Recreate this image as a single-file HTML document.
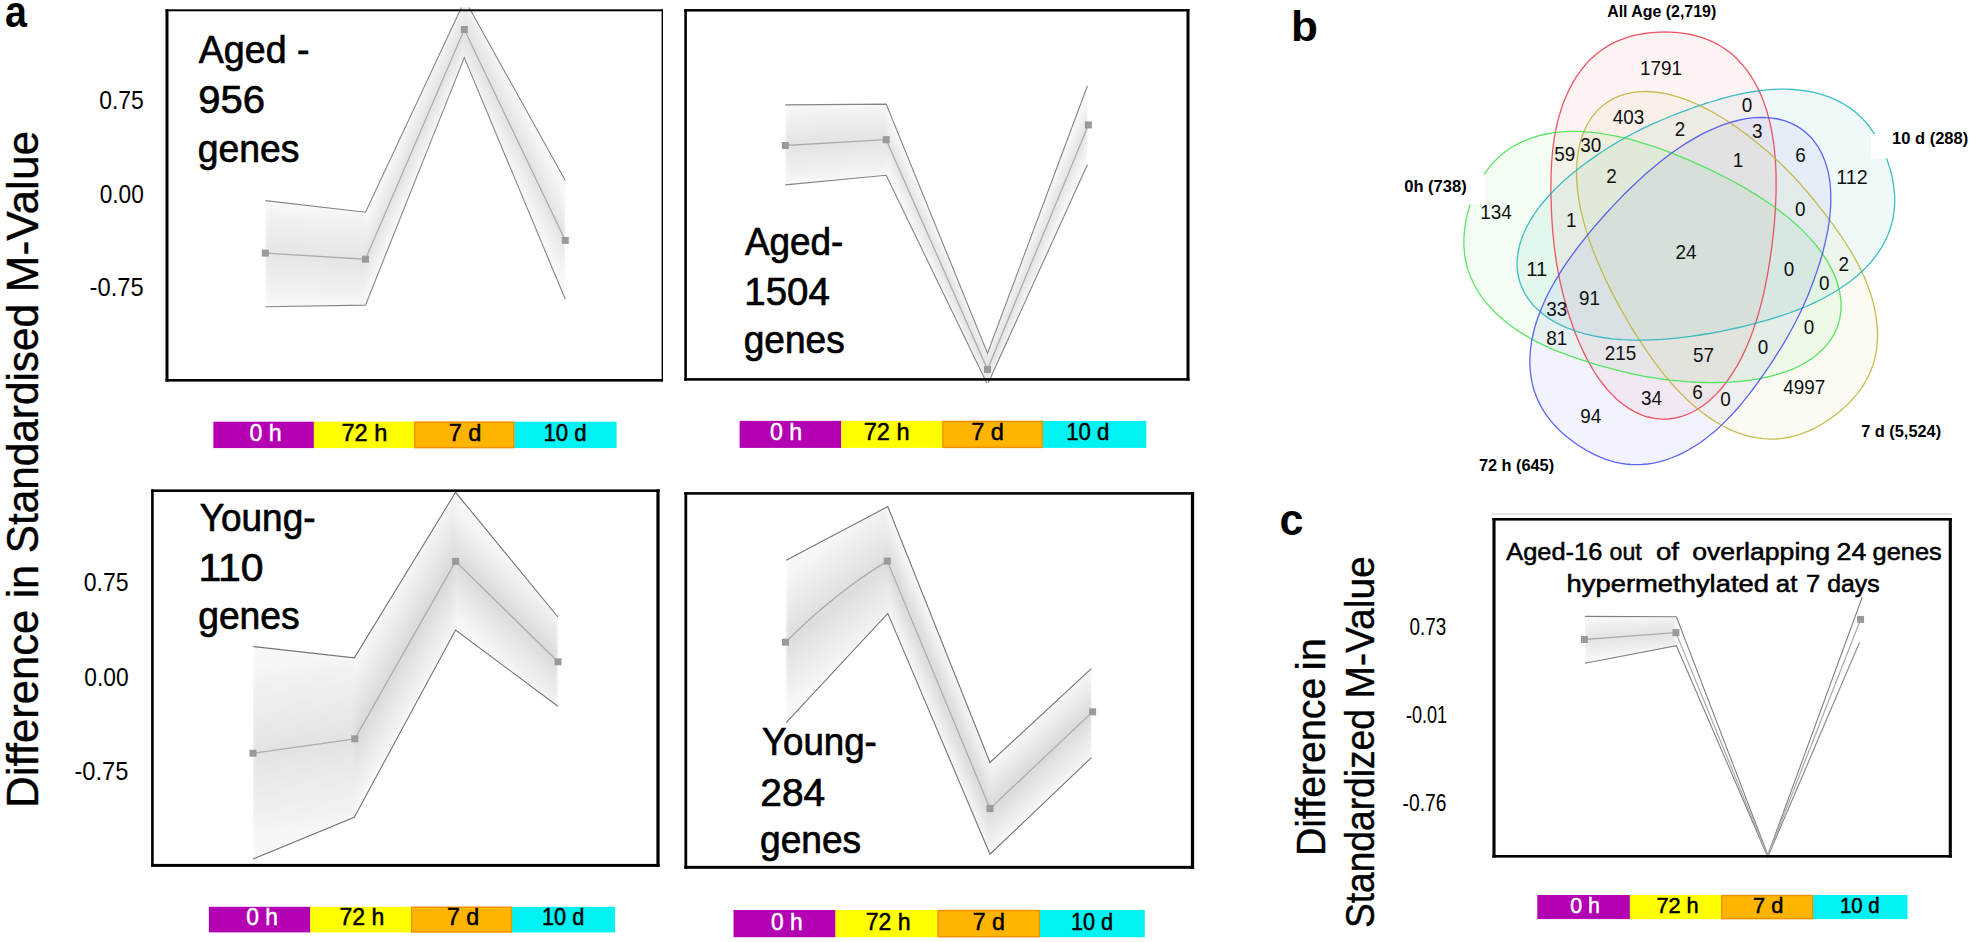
<!DOCTYPE html>
<html lang="en"><head><meta charset="utf-8"><title>Figure</title>
<style>html,body{margin:0;padding:0;background:#fff}svg{display:block}text{font-family:"Liberation Sans",sans-serif}</style>
</head><body>
<svg width="1971" height="942" viewBox="0 0 1971 942" font-family="'Liberation Sans', sans-serif">
<defs><filter id="blur" x="-10%" y="-10%" width="120%" height="120%"><feGaussianBlur stdDeviation="2.2"/></filter><clipPath id="c1"><rect x="160" y="7.5" width="510" height="377.5"/></clipPath><clipPath id="p2"><polygon points="265.3,200.6 365.5,212.2 464.9,0.0 565.3,180.5 565.3,299.3 464.3,57.6 365.5,305.1 265.3,306.7"/></clipPath><linearGradient id="g3" gradientUnits="userSpaceOnUse" x1="315.4" y1="256.1" x2="318.4" y2="206.6"><stop offset="0" stop-color="#e5e5e5"/><stop offset="1" stop-color="#f7f7f7"/></linearGradient><linearGradient id="g4" gradientUnits="userSpaceOnUse" x1="414.9" y1="144.3" x2="401.3" y2="138.5"><stop offset="0" stop-color="#e2e2e2"/><stop offset="1" stop-color="#f7f7f7"/></linearGradient><linearGradient id="g5" gradientUnits="userSpaceOnUse" x1="514.8" y1="134.9" x2="532.5" y2="126.5"><stop offset="0" stop-color="#e2e2e2"/><stop offset="1" stop-color="#f7f7f7"/></linearGradient><linearGradient id="g6" gradientUnits="userSpaceOnUse" x1="315.4" y1="256.1" x2="312.4" y2="305.7"><stop offset="0" stop-color="#e5e5e5"/><stop offset="1" stop-color="#f7f7f7"/></linearGradient><linearGradient id="g7" gradientUnits="userSpaceOnUse" x1="414.9" y1="144.3" x2="428.3" y2="150.1"><stop offset="0" stop-color="#e2e2e2"/><stop offset="1" stop-color="#f7f7f7"/></linearGradient><linearGradient id="g8" gradientUnits="userSpaceOnUse" x1="514.8" y1="134.9" x2="497.9" y2="143.1"><stop offset="0" stop-color="#e2e2e2"/><stop offset="1" stop-color="#f7f7f7"/></linearGradient><clipPath id="c9"><rect x="680" y="5" width="520" height="378"/></clipPath><clipPath id="p10"><polygon points="785.3,104.9 886.2,104.1 987.5,353.2 1087.5,85.8 1087.5,164.4 987.5,384.5 886.2,175.3 785.3,184.9"/></clipPath><linearGradient id="g11" gradientUnits="userSpaceOnUse" x1="835.8" y1="142.6" x2="833.6" y2="104.6"><stop offset="0" stop-color="#e3e3e3"/><stop offset="1" stop-color="#f7f7f7"/></linearGradient><linearGradient id="g12" gradientUnits="userSpaceOnUse" x1="936.9" y1="254.6" x2="946.4" y2="250.4"><stop offset="0" stop-color="#e2e2e2"/><stop offset="1" stop-color="#f7f7f7"/></linearGradient><linearGradient id="g13" gradientUnits="userSpaceOnUse" x1="1038.0" y1="247.2" x2="1027.8" y2="243.0"><stop offset="0" stop-color="#e2e2e2"/><stop offset="1" stop-color="#f7f7f7"/></linearGradient><linearGradient id="g14" gradientUnits="userSpaceOnUse" x1="835.8" y1="142.6" x2="837.9" y2="180.0"><stop offset="0" stop-color="#e3e3e3"/><stop offset="1" stop-color="#f7f7f7"/></linearGradient><linearGradient id="g15" gradientUnits="userSpaceOnUse" x1="936.9" y1="254.6" x2="927.5" y2="258.7"><stop offset="0" stop-color="#e2e2e2"/><stop offset="1" stop-color="#f7f7f7"/></linearGradient><linearGradient id="g16" gradientUnits="userSpaceOnUse" x1="1038.0" y1="247.2" x2="1047.2" y2="251.0"><stop offset="0" stop-color="#e2e2e2"/><stop offset="1" stop-color="#f7f7f7"/></linearGradient><clipPath id="c17"><rect x="150" y="488" width="520" height="382"/></clipPath><clipPath id="p18"><polygon points="253.0,646.5 354.3,657.8 455.6,492.3 557.9,617.0 557.9,706.3 455.6,630.1 354.3,817.3 253.0,859.0"/></clipPath><linearGradient id="g19" gradientUnits="userSpaceOnUse" x1="303.9" y1="746.0" x2="290.9" y2="654.0"><stop offset="0" stop-color="#e3e3e3"/><stop offset="1" stop-color="#f7f7f7"/></linearGradient><linearGradient id="g20" gradientUnits="userSpaceOnUse" x1="405.2" y1="650.1" x2="372.8" y2="631.7"><stop offset="0" stop-color="#dadada"/><stop offset="1" stop-color="#f7f7f7"/></linearGradient><linearGradient id="g21" gradientUnits="userSpaceOnUse" x1="506.8" y1="611.6" x2="535.2" y2="582.6"><stop offset="0" stop-color="#dbdbdb"/><stop offset="1" stop-color="#f7f7f7"/></linearGradient><linearGradient id="g22" gradientUnits="userSpaceOnUse" x1="303.9" y1="746.0" x2="316.7" y2="836.3"><stop offset="0" stop-color="#e3e3e3"/><stop offset="1" stop-color="#f7f7f7"/></linearGradient><linearGradient id="g23" gradientUnits="userSpaceOnUse" x1="405.2" y1="650.1" x2="436.6" y2="668.0"><stop offset="0" stop-color="#dadada"/><stop offset="1" stop-color="#f7f7f7"/></linearGradient><linearGradient id="g24" gradientUnits="userSpaceOnUse" x1="506.8" y1="611.6" x2="478.5" y2="640.5"><stop offset="0" stop-color="#dbdbdb"/><stop offset="1" stop-color="#f7f7f7"/></linearGradient><clipPath id="c25"><rect x="680" y="490" width="520" height="380"/></clipPath><clipPath id="p26"><polygon points="786.2,560.3 887.8,506.6 990.0,762.5 1091.3,668.7 1091.3,757.7 990.0,854.2 887.8,613.4 786.2,722.7"/></clipPath><linearGradient id="g27" gradientUnits="userSpaceOnUse" x1="836.4" y1="601.7" x2="803.4" y2="560.2"><stop offset="0" stop-color="#dedede"/><stop offset="1" stop-color="#f7f7f7"/></linearGradient><linearGradient id="g28" gradientUnits="userSpaceOnUse" x1="938.6" y1="684.9" x2="956.7" y2="677.4"><stop offset="0" stop-color="#d9d9d9"/><stop offset="1" stop-color="#f7f7f7"/></linearGradient><linearGradient id="g29" gradientUnits="userSpaceOnUse" x1="1041.3" y1="760.2" x2="1018.7" y2="736.3"><stop offset="0" stop-color="#dadada"/><stop offset="1" stop-color="#f7f7f7"/></linearGradient><linearGradient id="g30" gradientUnits="userSpaceOnUse" x1="836.4" y1="601.7" x2="869.0" y2="642.6"><stop offset="0" stop-color="#dddddd"/><stop offset="1" stop-color="#f7f7f7"/></linearGradient><linearGradient id="g31" gradientUnits="userSpaceOnUse" x1="938.6" y1="684.9" x2="921.5" y2="692.0"><stop offset="0" stop-color="#d9d9d9"/><stop offset="1" stop-color="#f7f7f7"/></linearGradient><linearGradient id="g32" gradientUnits="userSpaceOnUse" x1="1041.3" y1="760.2" x2="1063.8" y2="784.1"><stop offset="0" stop-color="#dadada"/><stop offset="1" stop-color="#f7f7f7"/></linearGradient><clipPath id="c33"><rect x="1490" y="516" width="465" height="343"/></clipPath><clipPath id="p34"><polygon points="1585.1,616.4 1676.4,616.8 1767.8,855.0 1862.2,597.2 1859.5,642.4 1767.8,857.0 1676.4,645.7 1585.1,663.2"/></clipPath><linearGradient id="g35" gradientUnits="userSpaceOnUse" x1="1630.2" y1="636.0" x2="1628.7" y2="616.8"><stop offset="0" stop-color="#e2e2e2"/><stop offset="1" stop-color="#f7f7f7"/></linearGradient><linearGradient id="g36" gradientUnits="userSpaceOnUse" x1="1630.2" y1="636.0" x2="1631.5" y2="654.4"><stop offset="0" stop-color="#e2e2e2"/><stop offset="1" stop-color="#f7f7f7"/></linearGradient></defs>
<rect width="1971" height="942" fill="#fff"/>
<text x="5.1" y="26.7" font-size="43.5" font-weight="bold" textLength="21.9" lengthAdjust="spacingAndGlyphs" fill="#000">a</text>
<text x="1291.0" y="41.4" font-size="42.5" font-weight="bold" textLength="26.9" lengthAdjust="spacingAndGlyphs" fill="#000">b</text>
<text x="1279.5" y="534.8" font-size="43.5" font-weight="bold" textLength="24.0" lengthAdjust="spacingAndGlyphs" fill="#000">c</text>
<g transform="translate(37.8,807.7) rotate(-90)"><text x="0.0" y="0.0" font-size="43.5" textLength="197.9" lengthAdjust="spacingAndGlyphs" fill="#000" stroke="#000" stroke-width="0.4">Difference</text></g>
<g transform="translate(37.8,598.6) rotate(-90)"><text x="0.0" y="0.0" font-size="43.5" textLength="33.9" lengthAdjust="spacingAndGlyphs" fill="#000" stroke="#000" stroke-width="0.4">in</text></g>
<g transform="translate(37.8,553.3) rotate(-90)"><text x="0.0" y="0.0" font-size="43.5" textLength="249.4" lengthAdjust="spacingAndGlyphs" fill="#000" stroke="#000" stroke-width="0.4">Standardised</text></g>
<g transform="translate(37.8,292.4) rotate(-90)"><text x="0.0" y="0.0" font-size="43.5" textLength="161.5" lengthAdjust="spacingAndGlyphs" fill="#000" stroke="#000" stroke-width="0.4">M-Value</text></g>
<text x="99.2" y="109.0" font-size="25.5" textLength="44.6" lengthAdjust="spacingAndGlyphs" fill="#000">0.75</text>
<text x="99.7" y="202.6" font-size="25.5" textLength="44.1" lengthAdjust="spacingAndGlyphs" fill="#000">0.00</text>
<text x="89.6" y="296.0" font-size="25.5" textLength="54.0" lengthAdjust="spacingAndGlyphs" fill="#000">-0.75</text>
<text x="83.7" y="591.4" font-size="25.5" textLength="44.9" lengthAdjust="spacingAndGlyphs" fill="#000">0.75</text>
<text x="84.3" y="685.9" font-size="25.5" textLength="44.3" lengthAdjust="spacingAndGlyphs" fill="#000">0.00</text>
<text x="74.4" y="780.0" font-size="25.5" textLength="54.0" lengthAdjust="spacingAndGlyphs" fill="#000">-0.75</text>
<g clip-path="url(#c1)"><g clip-path="url(#p2)"><g filter="url(#blur)"><polygon points="265.3,200.6 365.5,212.2 365.5,259.2 265.3,253.1" fill="url(#g3)" stroke="url(#g3)" stroke-width="0.6"/><polygon points="365.5,212.2 464.9,0.0 464.3,29.5 365.5,259.2" fill="url(#g4)" stroke="url(#g4)" stroke-width="0.6"/><polygon points="464.9,0.0 565.3,180.5 565.3,240.4 464.3,29.5" fill="url(#g5)" stroke="url(#g5)" stroke-width="0.6"/><polygon points="265.3,306.7 365.5,305.1 365.5,259.2 265.3,253.1" fill="url(#g6)" stroke="url(#g6)" stroke-width="0.6"/><polygon points="365.5,305.1 464.3,57.6 464.3,29.5 365.5,259.2" fill="url(#g7)" stroke="url(#g7)" stroke-width="0.6"/><polygon points="464.3,57.6 565.3,299.3 565.3,240.4 464.3,29.5" fill="url(#g8)" stroke="url(#g8)" stroke-width="0.6"/></g></g><polyline points="265.3,200.6 365.5,212.2 464.9,0.0 565.3,180.5" fill="none" stroke="#858585" stroke-width="1.1" stroke-linejoin="miter"/><polyline points="265.3,306.7 365.5,305.1 464.3,57.6 565.3,299.3" fill="none" stroke="#858585" stroke-width="1.1" stroke-linejoin="miter"/><polyline points="265.3,253.1 365.5,259.2 464.3,29.5 565.3,240.4" fill="none" stroke="#adadad" stroke-width="1.3"/></g><rect x="261.8" y="249.6" width="7" height="7" fill="#9a9a9a"/><rect x="362.0" y="255.7" width="7" height="7" fill="#9a9a9a"/><rect x="460.8" y="26.0" width="7" height="7" fill="#9a9a9a"/><rect x="561.8" y="236.9" width="7" height="7" fill="#9a9a9a"/>
<rect x="165.50" y="9.30" width="3" height="372.30" fill="#000"/><rect x="661.60" y="9.30" width="1.4" height="372.30" fill="#000"/><rect x="165.50" y="9.30" width="497.50" height="2" fill="#000"/><rect x="165.50" y="379.00" width="497.50" height="2.6" fill="#000"/>
<text x="198.8" y="63.3" font-size="38.5" textLength="110.7" lengthAdjust="spacingAndGlyphs" fill="#000" stroke="#000" stroke-width="0.7">Aged -</text>
<text x="198.3" y="112.9" font-size="38.5" textLength="66.7" lengthAdjust="spacingAndGlyphs" fill="#000" stroke="#000" stroke-width="0.7">956</text>
<text x="197.7" y="162.0" font-size="38.5" textLength="101.7" lengthAdjust="spacingAndGlyphs" fill="#000" stroke="#000" stroke-width="0.7">genes</text>
<rect x="213.4" y="421.7" width="100.7" height="26.4" fill="#b200b2"/><rect x="313.8" y="421.7" width="100.8" height="26.4" fill="#ffff00"/><rect x="414.3" y="421.7" width="100.3" height="26.4" fill="#ffb400"/><rect x="514.3" y="421.7" width="102.3" height="26.4" fill="#00f2f2"/><rect x="414.8" y="422.2" width="99.0" height="25.4" fill="none" stroke="#f09200" stroke-width="1.4"/><text x="249.5" y="440.7" font-size="24.5" textLength="32.2" lengthAdjust="spacingAndGlyphs" fill="#fff" stroke="#fff" stroke-width="0.5">0 h</text><text x="341.5" y="440.7" font-size="24.5" textLength="45.9" lengthAdjust="spacingAndGlyphs" fill="#000" stroke="#000" stroke-width="0.5">72 h</text><text x="448.7" y="440.7" font-size="24.5" textLength="32.8" lengthAdjust="spacingAndGlyphs" fill="#000" stroke="#000" stroke-width="0.5">7 d</text><text x="543.4" y="440.7" font-size="24.5" textLength="43.2" lengthAdjust="spacingAndGlyphs" fill="#000" stroke="#000" stroke-width="0.5">10 d</text>
<g clip-path="url(#c9)"><g clip-path="url(#p10)"><g filter="url(#blur)"><polygon points="785.3,104.9 886.2,104.1 886.2,139.7 785.3,145.5" fill="url(#g11)" stroke="url(#g11)" stroke-width="0.6"/><polygon points="886.2,104.1 987.5,353.2 987.5,369.5 886.2,139.7" fill="url(#g12)" stroke="url(#g12)" stroke-width="0.6"/><polygon points="987.5,353.2 1087.5,85.8 1088.4,124.9 987.5,369.5" fill="url(#g13)" stroke="url(#g13)" stroke-width="0.6"/><polygon points="785.3,184.9 886.2,175.3 886.2,139.7 785.3,145.5" fill="url(#g14)" stroke="url(#g14)" stroke-width="0.6"/><polygon points="886.2,175.3 987.5,384.5 987.5,369.5 886.2,139.7" fill="url(#g15)" stroke="url(#g15)" stroke-width="0.6"/><polygon points="987.5,384.5 1087.5,164.4 1088.4,124.9 987.5,369.5" fill="url(#g16)" stroke="url(#g16)" stroke-width="0.6"/></g></g><polyline points="785.3,104.9 886.2,104.1 987.5,353.2 1087.5,85.8" fill="none" stroke="#858585" stroke-width="1.1" stroke-linejoin="miter"/><polyline points="785.3,184.9 886.2,175.3 987.5,384.5 1087.5,164.4" fill="none" stroke="#858585" stroke-width="1.1" stroke-linejoin="miter"/><polyline points="785.3,145.5 886.2,139.7 987.5,369.5 1088.4,124.9" fill="none" stroke="#adadad" stroke-width="1.3"/></g><rect x="781.8" y="142.0" width="7" height="7" fill="#9a9a9a"/><rect x="882.7" y="136.2" width="7" height="7" fill="#9a9a9a"/><rect x="984.0" y="366.0" width="7" height="7" fill="#9a9a9a"/><rect x="1084.9" y="121.4" width="7" height="7" fill="#9a9a9a"/>
<rect x="684.30" y="9.05" width="2.6" height="371.65" fill="#000"/><rect x="1186.50" y="9.05" width="3" height="371.65" fill="#000"/><rect x="684.30" y="9.05" width="505.20" height="2.5" fill="#000"/><rect x="684.30" y="378.10" width="505.20" height="2.6" fill="#000"/>
<text x="744.9" y="255.2" font-size="38.5" textLength="98.5" lengthAdjust="spacingAndGlyphs" fill="#000" stroke="#000" stroke-width="0.7">Aged-</text>
<text x="744.3" y="304.9" font-size="38.5" textLength="85.6" lengthAdjust="spacingAndGlyphs" fill="#000" stroke="#000" stroke-width="0.7">1504</text>
<text x="743.7" y="353.2" font-size="38.5" textLength="101.0" lengthAdjust="spacingAndGlyphs" fill="#000" stroke="#000" stroke-width="0.7">genes</text>
<rect x="739.6" y="420.9" width="101.9" height="27.0" fill="#b200b2"/><rect x="841.2" y="420.9" width="101.6" height="27.0" fill="#ffff00"/><rect x="942.5" y="420.9" width="100.5" height="27.0" fill="#ffb400"/><rect x="1042.7" y="420.9" width="103.6" height="27.0" fill="#00f2f2"/><rect x="943.0" y="421.4" width="99.2" height="26.0" fill="none" stroke="#f09200" stroke-width="1.4"/><text x="770.0" y="440.2" font-size="24.5" textLength="32.2" lengthAdjust="spacingAndGlyphs" fill="#fff" stroke="#fff" stroke-width="0.5">0 h</text><text x="863.7" y="440.2" font-size="24.5" textLength="45.9" lengthAdjust="spacingAndGlyphs" fill="#000" stroke="#000" stroke-width="0.5">72 h</text><text x="971.2" y="440.2" font-size="24.5" textLength="32.8" lengthAdjust="spacingAndGlyphs" fill="#000" stroke="#000" stroke-width="0.5">7 d</text><text x="1066.2" y="440.2" font-size="24.5" textLength="43.2" lengthAdjust="spacingAndGlyphs" fill="#000" stroke="#000" stroke-width="0.5">10 d</text>
<g clip-path="url(#c17)"><g clip-path="url(#p18)"><g filter="url(#blur)"><polygon points="253.0,646.5 354.3,657.8 354.8,738.8 253.0,753.2" fill="url(#g19)" stroke="url(#g19)" stroke-width="0.6"/><polygon points="354.3,657.8 455.6,492.3 455.6,561.4 354.8,738.8" fill="url(#g20)" stroke="url(#g20)" stroke-width="0.6"/><polygon points="455.6,492.3 557.9,617.0 558.0,661.8 455.6,561.4" fill="url(#g21)" stroke="url(#g21)" stroke-width="0.6"/><polygon points="253.0,859.0 354.3,817.3 354.8,738.8 253.0,753.2" fill="url(#g22)" stroke="url(#g22)" stroke-width="0.6"/><polygon points="354.3,817.3 455.6,630.1 455.6,561.4 354.8,738.8" fill="url(#g23)" stroke="url(#g23)" stroke-width="0.6"/><polygon points="455.6,630.1 557.9,706.3 558.0,661.8 455.6,561.4" fill="url(#g24)" stroke="url(#g24)" stroke-width="0.6"/></g></g><polyline points="253.0,646.5 354.3,657.8 455.6,492.3 557.9,617.0" fill="none" stroke="#747474" stroke-width="1.1" stroke-linejoin="miter"/><polyline points="253.0,859.0 354.3,817.3 455.6,630.1 557.9,706.3" fill="none" stroke="#747474" stroke-width="1.1" stroke-linejoin="miter"/><polyline points="253.0,753.2 354.8,738.8 455.6,561.4 558.0,661.8" fill="none" stroke="#adadad" stroke-width="1.3"/></g><rect x="249.5" y="749.7" width="7" height="7" fill="#9a9a9a"/><rect x="351.3" y="735.3" width="7" height="7" fill="#9a9a9a"/><rect x="452.1" y="557.9" width="7" height="7" fill="#9a9a9a"/><rect x="554.5" y="658.3" width="7" height="7" fill="#9a9a9a"/>
<rect x="151.10" y="489.40" width="2.6" height="377.50" fill="#000"/><rect x="656.40" y="489.40" width="3.2" height="377.50" fill="#000"/><rect x="151.10" y="489.40" width="508.50" height="2.6" fill="#000"/><rect x="151.10" y="863.90" width="508.50" height="3" fill="#000"/>
<text x="199.8" y="530.7" font-size="38.5" textLength="115.7" lengthAdjust="spacingAndGlyphs" fill="#000" stroke="#000" stroke-width="0.7">Young-</text>
<text x="198.4" y="580.5" font-size="38.5" textLength="65.2" lengthAdjust="spacingAndGlyphs" fill="#000" stroke="#000" stroke-width="0.7">110</text>
<text x="198.2" y="629.3" font-size="38.5" textLength="101.5" lengthAdjust="spacingAndGlyphs" fill="#000" stroke="#000" stroke-width="0.7">genes</text>
<rect x="208.9" y="906.8" width="101.6" height="25.6" fill="#b200b2"/><rect x="310.2" y="906.8" width="101.3" height="25.6" fill="#ffff00"/><rect x="411.2" y="906.8" width="101.0" height="25.6" fill="#ffb400"/><rect x="511.9" y="906.8" width="103.2" height="25.6" fill="#00f2f2"/><rect x="411.7" y="907.3" width="99.7" height="24.6" fill="none" stroke="#f09200" stroke-width="1.4"/><text x="246.3" y="925.0" font-size="24" textLength="31.7" lengthAdjust="spacingAndGlyphs" fill="#fff" stroke="#fff" stroke-width="0.5">0 h</text><text x="339.4" y="925.0" font-size="24" textLength="44.8" lengthAdjust="spacingAndGlyphs" fill="#000" stroke="#000" stroke-width="0.5">72 h</text><text x="447.0" y="925.0" font-size="24" textLength="32.3" lengthAdjust="spacingAndGlyphs" fill="#000" stroke="#000" stroke-width="0.5">7 d</text><text x="542.0" y="925.0" font-size="24" textLength="42.2" lengthAdjust="spacingAndGlyphs" fill="#000" stroke="#000" stroke-width="0.5">10 d</text>
<g clip-path="url(#c25)"><g clip-path="url(#p26)"><g filter="url(#blur)"><polygon points="786.2,560.3 887.8,506.6 887.3,561.1 785.5,642.2" fill="url(#g27)" stroke="url(#g27)" stroke-width="0.6"/><polygon points="887.8,506.6 990.0,762.5 990.0,808.6 887.3,561.1" fill="url(#g28)" stroke="url(#g28)" stroke-width="0.6"/><polygon points="990.0,762.5 1091.3,668.7 1092.6,711.8 990.0,808.6" fill="url(#g29)" stroke="url(#g29)" stroke-width="0.6"/><polygon points="786.2,722.7 887.8,613.4 887.3,561.1 785.5,642.2" fill="url(#g30)" stroke="url(#g30)" stroke-width="0.6"/><polygon points="887.8,613.4 990.0,854.2 990.0,808.6 887.3,561.1" fill="url(#g31)" stroke="url(#g31)" stroke-width="0.6"/><polygon points="990.0,854.2 1091.3,757.7 1092.6,711.8 990.0,808.6" fill="url(#g32)" stroke="url(#g32)" stroke-width="0.6"/></g></g><polyline points="786.2,560.3 887.8,506.6 990.0,762.5 1091.3,668.7" fill="none" stroke="#747474" stroke-width="1.1" stroke-linejoin="miter"/><polyline points="786.2,722.7 887.8,613.4 990.0,854.2 1091.3,757.7" fill="none" stroke="#747474" stroke-width="1.1" stroke-linejoin="miter"/><path d="M785.5,642.2 Q836,592 887.3,561.1 L990,808.6 L1092.6,711.8" fill="none" stroke="#adadad" stroke-width="1.3"/></g><rect x="782.0" y="638.7" width="7" height="7" fill="#9a9a9a"/><rect x="883.8" y="557.6" width="7" height="7" fill="#9a9a9a"/><rect x="986.5" y="805.1" width="7" height="7" fill="#9a9a9a"/><rect x="1089.1" y="708.3" width="7" height="7" fill="#9a9a9a"/>
<rect x="684.40" y="492.10" width="2.8" height="376.70" fill="#000"/><rect x="1190.90" y="492.10" width="3.2" height="376.70" fill="#000"/><rect x="684.40" y="492.10" width="509.70" height="2.6" fill="#000"/><rect x="684.40" y="865.80" width="509.70" height="3" fill="#000"/>
<text x="762.0" y="755.4" font-size="38.5" textLength="114.7" lengthAdjust="spacingAndGlyphs" fill="#000" stroke="#000" stroke-width="0.7">Young-</text>
<text x="760.3" y="806.1" font-size="38.5" textLength="64.9" lengthAdjust="spacingAndGlyphs" fill="#000" stroke="#000" stroke-width="0.7">284</text>
<text x="760.0" y="853.2" font-size="38.5" textLength="101.2" lengthAdjust="spacingAndGlyphs" fill="#000" stroke="#000" stroke-width="0.7">genes</text>
<rect x="733.5" y="910.0" width="102.2" height="27.2" fill="#b200b2"/><rect x="835.4" y="910.0" width="102.6" height="27.2" fill="#ffff00"/><rect x="937.7" y="910.0" width="102.3" height="27.2" fill="#ffb400"/><rect x="1039.7" y="910.0" width="105.1" height="27.2" fill="#00f2f2"/><rect x="938.2" y="910.5" width="101.0" height="26.2" fill="none" stroke="#f09200" stroke-width="1.4"/><text x="771.0" y="929.8" font-size="24" textLength="31.7" lengthAdjust="spacingAndGlyphs" fill="#fff" stroke="#fff" stroke-width="0.5">0 h</text><text x="865.7" y="929.8" font-size="24" textLength="44.8" lengthAdjust="spacingAndGlyphs" fill="#000" stroke="#000" stroke-width="0.5">72 h</text><text x="972.7" y="929.8" font-size="24" textLength="32.3" lengthAdjust="spacingAndGlyphs" fill="#000" stroke="#000" stroke-width="0.5">7 d</text><text x="1070.9" y="929.8" font-size="24" textLength="42.2" lengthAdjust="spacingAndGlyphs" fill="#000" stroke="#000" stroke-width="0.5">10 d</text>
<rect x="1491.6" y="513.4" width="460.2" height="1.2" fill="#d4d4d4"/>
<g clip-path="url(#c33)"><g clip-path="url(#p34)"><g filter="url(#blur)"><polygon points="1585.1,616.4 1676.4,616.8 1675.9,632.6 1584.4,639.5" fill="url(#g35)" stroke="url(#g35)" stroke-width="0.6"/><polygon points="1585.1,663.2 1676.4,645.7 1675.9,632.6 1584.4,639.5" fill="url(#g36)" stroke="url(#g36)" stroke-width="0.6"/></g></g><polyline points="1585.1,616.4 1676.4,616.8 1767.8,855.0 1862.2,597.2" fill="none" stroke="#808080" stroke-width="1.1" stroke-linejoin="miter"/><polyline points="1585.1,663.2 1676.4,645.7 1767.8,857.0 1859.5,642.4" fill="none" stroke="#808080" stroke-width="1.1" stroke-linejoin="miter"/><polyline points="1584.4,639.5 1675.9,632.6 1767.8,856.0 1860.6,619.4" fill="none" stroke="#adadad" stroke-width="1.3"/></g><rect x="1580.9" y="636.0" width="7" height="7" fill="#9a9a9a"/><rect x="1672.4" y="629.1" width="7" height="7" fill="#9a9a9a"/><rect x="1857.1" y="615.9" width="7" height="7" fill="#9a9a9a"/>
<rect x="1492.45" y="518.00" width="3.1" height="339.60" fill="#000"/><rect x="1948.75" y="518.00" width="3.1" height="339.60" fill="#000"/><rect x="1492.45" y="518.00" width="459.40" height="2.6" fill="#000"/><rect x="1492.45" y="855.00" width="459.40" height="2.6" fill="#000"/>
<text x="1506.2" y="559.5" font-size="24.6" textLength="96.1" lengthAdjust="spacingAndGlyphs" fill="#000" stroke="#000" stroke-width="0.55">Aged-16</text>
<text x="1609.5" y="559.5" font-size="24.6" textLength="32.2" lengthAdjust="spacingAndGlyphs" fill="#000" stroke="#000" stroke-width="0.55">out</text>
<text x="1655.9" y="559.5" font-size="24.6" textLength="23.1" lengthAdjust="spacingAndGlyphs" fill="#000" stroke="#000" stroke-width="0.55">of</text>
<text x="1692.2" y="559.5" font-size="24.6" textLength="137.8" lengthAdjust="spacingAndGlyphs" fill="#000" stroke="#000" stroke-width="0.55">overlapping</text>
<text x="1836.6" y="559.5" font-size="24.6" textLength="29.7" lengthAdjust="spacingAndGlyphs" fill="#000" stroke="#000" stroke-width="0.55">24</text>
<text x="1872.5" y="559.5" font-size="24.6" textLength="69.3" lengthAdjust="spacingAndGlyphs" fill="#000" stroke="#000" stroke-width="0.55">genes</text>
<text x="1566.5" y="592.4" font-size="24.6" textLength="202.5" lengthAdjust="spacingAndGlyphs" fill="#000" stroke="#000" stroke-width="0.55">hypermethylated</text>
<text x="1775.8" y="592.4" font-size="24.6" textLength="21.5" lengthAdjust="spacingAndGlyphs" fill="#000" stroke="#000" stroke-width="0.55">at</text>
<text x="1806.1" y="592.4" font-size="24.6" textLength="14.2" lengthAdjust="spacingAndGlyphs" fill="#000" stroke="#000" stroke-width="0.55">7</text>
<text x="1827.2" y="592.4" font-size="24.6" textLength="52.5" lengthAdjust="spacingAndGlyphs" fill="#000" stroke="#000" stroke-width="0.55">days</text>
<rect x="1537.3" y="895.0" width="92.8" height="24.1" fill="#b200b2"/><rect x="1629.8" y="895.0" width="91.8" height="24.1" fill="#ffff00"/><rect x="1721.3" y="895.0" width="92.1" height="24.1" fill="#ffb400"/><rect x="1813.1" y="895.0" width="94.4" height="24.1" fill="#00f2f2"/><rect x="1721.8" y="895.5" width="90.8" height="23.1" fill="none" stroke="#f09200" stroke-width="1.4"/><text x="1570.2" y="912.8" font-size="22.5" textLength="29.8" lengthAdjust="spacingAndGlyphs" fill="#fff" stroke="#fff" stroke-width="0.5">0 h</text><text x="1656.4" y="912.8" font-size="22.5" textLength="42.3" lengthAdjust="spacingAndGlyphs" fill="#000" stroke="#000" stroke-width="0.5">72 h</text><text x="1753.1" y="912.8" font-size="22.5" textLength="30.3" lengthAdjust="spacingAndGlyphs" fill="#000" stroke="#000" stroke-width="0.5">7 d</text><text x="1839.9" y="912.8" font-size="22.5" textLength="39.8" lengthAdjust="spacingAndGlyphs" fill="#000" stroke="#000" stroke-width="0.5">10 d</text>
<text x="1409.5" y="634.5" font-size="24.5" textLength="36.7" lengthAdjust="spacingAndGlyphs" fill="#000">0.73</text>
<text x="1405.9" y="722.6" font-size="24.5" textLength="41.2" lengthAdjust="spacingAndGlyphs" fill="#000">-0.01</text>
<text x="1402.6" y="811.2" font-size="24.5" textLength="43.8" lengthAdjust="spacingAndGlyphs" fill="#000">-0.76</text>
<g transform="translate(1324.6,856.0) rotate(-90)"><text x="0.0" y="0.0" font-size="41.5" textLength="178.3" lengthAdjust="spacingAndGlyphs" fill="#000" stroke="#000" stroke-width="0.4">Difference</text></g>
<g transform="translate(1324.6,670.4) rotate(-90)"><text x="0.0" y="0.0" font-size="41.5" textLength="32.5" lengthAdjust="spacingAndGlyphs" fill="#000" stroke="#000" stroke-width="0.4">in</text></g>
<g transform="translate(1373.9,928.1) rotate(-90)"><text x="0.0" y="0.0" font-size="41.5" textLength="219.0" lengthAdjust="spacingAndGlyphs" fill="#000" stroke="#000" stroke-width="0.4">Standardized</text></g>
<g transform="translate(1373.9,698.5) rotate(-90)"><text x="0.0" y="0.0" font-size="41.5" textLength="142.3" lengthAdjust="spacingAndGlyphs" fill="#000" stroke="#000" stroke-width="0.4">M-Value</text></g>
<path d="M1467.5,214.0 L1468.8,209.1 L1470.2,204.2 L1471.9,199.3 L1473.8,194.4 L1475.9,189.6 L1478.2,184.8 L1480.8,180.0 L1483.6,175.3 L1486.8,170.7 L1490.3,166.1 L1494.1,161.8 L1498.3,157.6 L1502.9,153.6 L1507.9,149.8 L1513.4,146.3 L1519.2,143.1 L1525.4,140.3 L1532.0,137.8 L1538.9,135.7 L1546.2,134.0 L1553.7,132.7 L1561.6,131.9 L1569.7,131.4 L1577.9,131.4 L1586.3,131.8 L1594.9,132.6 L1603.5,133.8 L1612.1,135.3 L1620.8,137.1 L1629.5,139.2 L1638.2,141.6 L1646.8,144.3 L1655.4,147.1 L1664.0,150.2 L1672.5,153.4 L1681.1,156.9 L1689.5,160.4 L1698.0,164.2 L1706.5,168.1 L1715.0,172.1 L1723.4,176.3 L1731.9,180.8 L1740.3,185.4 L1748.7,190.3 L1757.1,195.4 L1765.3,200.7 L1773.4,206.3 L1781.4,212.2 L1789.1,218.3 L1796.5,224.8 L1803.5,231.4 L1810.1,238.4 L1816.3,245.5 L1821.8,252.8 L1826.8,260.3 L1831.1,267.9 L1834.7,275.6 L1837.5,283.3 L1839.5,290.9 L1840.7,298.5 L1841.1,305.9 L1840.7,313.1 L1839.5,320.1 L1837.4,326.8 L1834.7,333.1 L1831.2,339.1 L1827.1,344.7 L1822.3,349.8 L1817.1,354.6 L1811.4,358.9 L1805.3,362.8 L1798.9,366.2 L1792.2,369.3 L1785.3,371.9 L1778.3,374.2 L1771.3,376.1 L1764.2,377.7 L1757.2,379.1 L1750.2,380.1 L1743.3,381.0 L1736.5,381.6 L1729.8,382.1 L1723.2,382.4 L1716.8,382.5 L1710.6,382.6 L1704.4,382.5 L1698.4,382.3 L1692.5,382.0 L1686.8,381.7 L1681.1,381.2 L1675.5,380.7 L1670.0,380.1 L1664.6,379.5 L1659.2,378.7 L1653.9,377.9 L1648.6,377.0 L1643.4,376.1 L1638.3,375.1 L1633.1,374.0 L1628.0,372.8 L1622.9,371.6 L1617.9,370.4 L1612.8,369.1 L1607.7,367.7 L1602.6,366.3 L1597.4,364.8 L1592.2,363.3 L1587.0,361.6 L1581.7,359.9 L1576.3,358.1 L1570.8,356.3 L1565.3,354.2 L1559.7,352.1 L1554.1,349.8 L1548.3,347.3 L1542.6,344.6 L1536.8,341.8 L1531.1,338.7 L1525.4,335.4 L1519.7,331.9 L1514.2,328.2 L1508.8,324.2 L1503.6,320.1 L1498.6,315.7 L1493.9,311.2 L1489.4,306.5 L1485.3,301.6 L1481.5,296.6 L1478.1,291.5 L1475.0,286.3 L1472.4,281.0 L1470.1,275.7 L1468.1,270.4 L1466.6,265.1 L1465.4,259.8 L1464.6,254.5 L1464.1,249.3 L1463.8,244.1 L1463.9,239.0 L1464.2,233.9 L1464.7,228.9 L1465.4,223.9 L1466.3,218.9Z" fill="#50e050" fill-opacity="0.072"/>
<path d="M1884.9,154.1 L1886.8,158.9 L1888.4,163.7 L1890.0,168.6 L1891.3,173.7 L1892.5,178.8 L1893.4,184.1 L1894.1,189.4 L1894.6,194.9 L1894.7,200.5 L1894.6,206.2 L1894.0,212.0 L1893.1,217.9 L1891.7,223.9 L1889.9,229.8 L1887.6,235.8 L1884.7,241.8 L1881.4,247.8 L1877.5,253.7 L1873.1,259.5 L1868.3,265.1 L1862.9,270.6 L1857.0,275.9 L1850.8,281.0 L1844.1,285.8 L1837.0,290.5 L1829.7,294.8 L1822.0,299.0 L1814.1,302.8 L1806.0,306.5 L1797.7,309.8 L1789.3,313.0 L1780.8,315.9 L1772.1,318.7 L1763.4,321.2 L1754.6,323.6 L1745.7,325.9 L1736.7,328.0 L1727.7,329.9 L1718.5,331.8 L1709.3,333.5 L1699.9,335.0 L1690.5,336.4 L1680.9,337.6 L1671.3,338.6 L1661.6,339.4 L1651.7,339.9 L1641.9,340.2 L1632.0,340.1 L1622.2,339.6 L1612.4,338.8 L1602.8,337.5 L1593.4,335.8 L1584.2,333.6 L1575.4,331.0 L1566.9,327.8 L1559.0,324.2 L1551.6,320.1 L1544.8,315.6 L1538.7,310.6 L1533.3,305.2 L1528.6,299.4 L1524.7,293.3 L1521.6,286.9 L1519.3,280.4 L1517.8,273.6 L1517.1,266.7 L1517.2,259.8 L1518.0,252.8 L1519.4,245.9 L1521.5,239.0 L1524.2,232.3 L1527.3,225.7 L1530.9,219.4 L1534.9,213.2 L1539.2,207.2 L1543.8,201.5 L1548.6,196.1 L1553.5,190.8 L1558.5,185.9 L1563.6,181.1 L1568.8,176.6 L1573.9,172.3 L1579.0,168.2 L1584.1,164.3 L1589.2,160.6 L1594.2,157.1 L1599.1,153.7 L1604.0,150.5 L1608.9,147.3 L1613.8,144.4 L1618.6,141.5 L1623.4,138.7 L1628.2,136.1 L1633.0,133.5 L1637.7,131.1 L1642.5,128.7 L1647.3,126.4 L1652.0,124.2 L1656.8,122.1 L1661.6,120.0 L1666.5,118.0 L1671.3,116.0 L1676.2,114.1 L1681.1,112.2 L1686.1,110.3 L1691.1,108.5 L1696.2,106.7 L1701.4,104.9 L1706.7,103.2 L1712.1,101.5 L1717.7,99.8 L1723.3,98.2 L1729.1,96.6 L1735.0,95.2 L1741.1,93.8 L1747.3,92.6 L1753.7,91.5 L1760.1,90.6 L1766.7,89.9 L1773.3,89.4 L1780.0,89.2 L1786.6,89.2 L1793.3,89.5 L1799.9,90.1 L1806.4,91.0 L1812.8,92.2 L1819.0,93.7 L1825.0,95.6 L1830.8,97.7 L1836.3,100.1 L1841.6,102.8 L1846.5,105.7 L1851.2,108.9 L1855.6,112.3 L1859.6,115.9 L1863.4,119.6 L1866.9,123.5 L1870.1,127.6 L1873.1,131.8 L1875.9,136.1 L1878.4,140.4 L1880.7,144.9 L1882.9,149.5Z" fill="#30b0b0" fill-opacity="0.072"/>
<path d="M1654.4,32.4 L1659.5,32.1 L1664.6,32.0 L1669.8,32.1 L1675.0,32.4 L1680.2,32.9 L1685.5,33.6 L1690.9,34.5 L1696.2,35.8 L1701.6,37.4 L1707.0,39.3 L1712.3,41.6 L1717.6,44.3 L1722.9,47.5 L1728.0,51.1 L1733.0,55.1 L1737.8,59.7 L1742.4,64.7 L1746.8,70.2 L1751.0,76.1 L1754.8,82.5 L1758.4,89.4 L1761.6,96.5 L1764.5,104.1 L1767.1,112.0 L1769.3,120.1 L1771.2,128.4 L1772.8,137.0 L1774.0,145.7 L1774.9,154.5 L1775.6,163.4 L1776.0,172.4 L1776.1,181.5 L1776.1,190.5 L1775.8,199.6 L1775.4,208.7 L1774.8,217.9 L1774.0,227.1 L1773.1,236.3 L1772.0,245.5 L1770.7,254.9 L1769.3,264.2 L1767.7,273.6 L1765.9,283.1 L1763.9,292.6 L1761.6,302.1 L1759.1,311.6 L1756.3,321.0 L1753.1,330.4 L1749.7,339.6 L1745.9,348.6 L1741.7,357.4 L1737.1,365.8 L1732.2,373.9 L1727.0,381.4 L1721.4,388.5 L1715.5,394.9 L1709.3,400.7 L1702.9,405.7 L1696.2,410.0 L1689.4,413.5 L1682.5,416.2 L1675.5,418.0 L1668.5,419.0 L1661.5,419.1 L1654.6,418.4 L1647.9,417.0 L1641.3,414.8 L1634.9,411.9 L1628.8,408.4 L1622.9,404.3 L1617.3,399.7 L1612.1,394.6 L1607.1,389.2 L1602.5,383.5 L1598.1,377.6 L1594.1,371.5 L1590.4,365.2 L1586.9,358.9 L1583.8,352.6 L1580.8,346.3 L1578.1,340.0 L1575.6,333.8 L1573.3,327.7 L1571.2,321.6 L1569.2,315.7 L1567.4,309.8 L1565.7,304.1 L1564.2,298.4 L1562.7,292.8 L1561.4,287.2 L1560.1,281.8 L1559.0,276.4 L1558.0,271.0 L1557.0,265.7 L1556.1,260.4 L1555.4,255.1 L1554.7,249.9 L1554.0,244.6 L1553.5,239.4 L1553.0,234.2 L1552.5,229.0 L1552.2,223.8 L1551.8,218.5 L1551.6,213.3 L1551.3,208.0 L1551.2,202.6 L1551.0,197.2 L1550.9,191.7 L1550.9,186.1 L1551.0,180.5 L1551.1,174.7 L1551.3,168.8 L1551.6,162.8 L1552.1,156.7 L1552.7,150.5 L1553.4,144.2 L1554.3,137.9 L1555.5,131.5 L1556.8,125.0 L1558.4,118.6 L1560.3,112.2 L1562.3,105.8 L1564.7,99.6 L1567.3,93.5 L1570.2,87.6 L1573.3,81.9 L1576.6,76.4 L1580.2,71.3 L1584.0,66.5 L1588.0,61.9 L1592.2,57.8 L1596.5,53.9 L1601.0,50.5 L1605.6,47.4 L1610.2,44.6 L1615.0,42.2 L1619.8,40.1 L1624.6,38.3 L1629.5,36.7 L1634.5,35.4 L1639.4,34.4 L1644.4,33.5 L1649.4,32.9Z" fill="#f06060" fill-opacity="0.072"/>
<path d="M1582.4,447.9 L1578.1,445.2 L1573.9,442.2 L1569.8,439.1 L1565.7,435.9 L1561.8,432.4 L1557.9,428.7 L1554.2,424.8 L1550.6,420.6 L1547.1,416.2 L1543.9,411.4 L1541.0,406.4 L1538.3,401.1 L1535.9,395.5 L1533.8,389.6 L1532.2,383.4 L1531.0,376.8 L1530.2,370.1 L1529.8,363.0 L1530.0,355.8 L1530.6,348.3 L1531.7,340.7 L1533.4,333.0 L1535.4,325.2 L1538.0,317.3 L1541.0,309.5 L1544.4,301.6 L1548.1,293.8 L1552.2,286.0 L1556.7,278.3 L1561.4,270.7 L1566.3,263.2 L1571.5,255.8 L1576.9,248.5 L1582.5,241.3 L1588.2,234.2 L1594.0,227.1 L1600.1,220.2 L1606.2,213.2 L1612.6,206.4 L1619.0,199.6 L1625.7,192.8 L1632.5,186.2 L1639.5,179.6 L1646.7,173.1 L1654.2,166.7 L1661.8,160.5 L1669.6,154.5 L1677.7,148.8 L1685.9,143.4 L1694.3,138.4 L1702.8,133.7 L1711.5,129.6 L1720.1,125.9 L1728.8,122.9 L1737.5,120.5 L1746.1,118.7 L1754.4,117.7 L1762.6,117.4 L1770.5,117.8 L1778.1,119.0 L1785.3,120.9 L1792.0,123.6 L1798.2,126.9 L1804.0,130.9 L1809.1,135.5 L1813.7,140.6 L1817.8,146.3 L1821.2,152.4 L1824.1,158.9 L1826.5,165.6 L1828.3,172.6 L1829.6,179.8 L1830.4,187.1 L1830.8,194.4 L1830.8,201.8 L1830.5,209.1 L1829.8,216.3 L1828.9,223.4 L1827.8,230.4 L1826.4,237.2 L1824.9,243.9 L1823.3,250.4 L1821.6,256.7 L1819.7,262.8 L1817.8,268.8 L1815.8,274.6 L1813.8,280.3 L1811.7,285.8 L1809.6,291.2 L1807.5,296.4 L1805.2,301.6 L1803.0,306.7 L1800.7,311.6 L1798.3,316.5 L1795.9,321.3 L1793.4,326.0 L1790.9,330.7 L1788.4,335.2 L1785.7,339.8 L1783.1,344.3 L1780.4,348.8 L1777.6,353.2 L1774.8,357.6 L1771.9,362.1 L1769.0,366.5 L1766.0,370.9 L1762.9,375.4 L1759.7,379.9 L1756.5,384.4 L1753.1,389.0 L1749.6,393.6 L1746.0,398.2 L1742.2,402.9 L1738.3,407.5 L1734.1,412.2 L1729.8,416.8 L1725.3,421.4 L1720.7,425.9 L1715.8,430.4 L1710.7,434.6 L1705.4,438.8 L1700.0,442.7 L1694.5,446.3 L1688.8,449.7 L1683.0,452.8 L1677.1,455.6 L1671.2,458.0 L1665.3,460.1 L1659.3,461.8 L1653.5,463.1 L1647.6,464.0 L1641.9,464.5 L1636.2,464.7 L1630.7,464.5 L1625.3,464.0 L1620.0,463.2 L1614.9,462.1 L1609.9,460.7 L1605.1,459.1 L1600.3,457.2 L1595.7,455.2 L1591.2,452.9 L1586.7,450.5Z" fill="#5050f0" fill-opacity="0.072"/>
<path d="M1840.4,410.9 L1836.4,414.1 L1832.4,417.2 L1828.1,420.2 L1823.8,423.0 L1819.2,425.7 L1814.5,428.3 L1809.6,430.6 L1804.6,432.7 L1799.3,434.6 L1793.8,436.2 L1788.1,437.5 L1782.2,438.4 L1776.2,439.0 L1769.9,439.1 L1763.5,438.7 L1756.9,437.9 L1750.2,436.5 L1743.4,434.7 L1736.6,432.3 L1729.7,429.4 L1722.8,426.0 L1715.9,422.0 L1709.2,417.6 L1702.5,412.8 L1695.9,407.5 L1689.5,401.9 L1683.2,395.9 L1677.1,389.5 L1671.1,383.0 L1665.3,376.1 L1659.7,369.1 L1654.3,361.9 L1649.0,354.5 L1643.9,347.0 L1638.9,339.4 L1634.0,331.6 L1629.2,323.7 L1624.6,315.7 L1620.0,307.6 L1615.5,299.3 L1611.2,290.9 L1606.9,282.4 L1602.8,273.6 L1598.9,264.8 L1595.1,255.8 L1591.6,246.6 L1588.3,237.3 L1585.4,227.9 L1582.8,218.4 L1580.5,208.8 L1578.8,199.3 L1577.5,189.8 L1576.7,180.4 L1576.5,171.2 L1576.9,162.2 L1577.9,153.5 L1579.5,145.2 L1581.7,137.4 L1584.6,130.0 L1588.0,123.2 L1592.1,116.9 L1596.7,111.3 L1601.8,106.4 L1607.3,102.2 L1613.3,98.7 L1619.6,95.9 L1626.3,93.8 L1633.1,92.4 L1640.2,91.7 L1647.3,91.5 L1654.5,92.0 L1661.8,93.0 L1668.9,94.4 L1676.1,96.3 L1683.0,98.6 L1689.9,101.2 L1696.6,104.0 L1703.0,107.1 L1709.3,110.3 L1715.4,113.7 L1721.3,117.2 L1726.9,120.8 L1732.4,124.4 L1737.7,128.0 L1742.8,131.7 L1747.7,135.3 L1752.5,139.0 L1757.1,142.7 L1761.5,146.4 L1765.9,150.0 L1770.1,153.7 L1774.2,157.5 L1778.2,161.2 L1782.1,164.9 L1785.9,168.7 L1789.6,172.5 L1793.3,176.3 L1796.9,180.2 L1800.4,184.1 L1803.8,188.0 L1807.3,192.0 L1810.6,196.0 L1814.0,200.0 L1817.3,204.1 L1820.6,208.3 L1823.9,212.5 L1827.2,216.8 L1830.5,221.2 L1833.8,225.7 L1837.1,230.3 L1840.4,235.1 L1843.6,239.9 L1846.9,245.0 L1850.1,250.2 L1853.3,255.5 L1856.4,261.1 L1859.4,266.8 L1862.2,272.6 L1864.9,278.6 L1867.4,284.8 L1869.7,291.0 L1871.7,297.4 L1873.5,303.8 L1875.0,310.3 L1876.1,316.8 L1876.9,323.2 L1877.4,329.6 L1877.5,335.8 L1877.3,342.0 L1876.7,348.0 L1875.8,353.8 L1874.5,359.5 L1873.0,364.9 L1871.1,370.1 L1868.9,375.1 L1866.5,379.8 L1863.9,384.4 L1861.0,388.7 L1858.0,392.8 L1854.8,396.7 L1851.4,400.5 L1847.8,404.1 L1844.2,407.6Z" fill="#c8c050" fill-opacity="0.072"/>
<path d="M1654.4,32.4 L1659.5,32.1 L1664.6,32.0 L1669.8,32.1 L1675.0,32.4 L1680.2,32.9 L1685.5,33.6 L1690.9,34.5 L1696.2,35.8 L1701.6,37.4 L1707.0,39.3 L1712.3,41.6 L1717.6,44.3 L1722.9,47.5 L1728.0,51.1 L1733.0,55.1 L1737.8,59.7 L1742.4,64.7 L1746.8,70.2 L1751.0,76.1 L1754.8,82.5 L1758.4,89.4 L1761.6,96.5 L1764.5,104.1 L1767.1,112.0 L1769.3,120.1 L1771.2,128.4 L1772.8,137.0 L1774.0,145.7 L1774.9,154.5 L1775.6,163.4 L1776.0,172.4 L1776.1,181.5 L1776.1,190.5 L1775.8,199.6 L1775.4,208.7 L1774.8,217.9 L1774.0,227.1 L1773.1,236.3 L1772.0,245.5 L1770.7,254.9 L1769.3,264.2 L1767.7,273.6 L1765.9,283.1 L1763.9,292.6 L1761.6,302.1 L1759.1,311.6 L1756.3,321.0 L1753.1,330.4 L1749.7,339.6 L1745.9,348.6 L1741.7,357.4 L1737.1,365.8 L1732.2,373.9 L1727.0,381.4 L1721.4,388.5 L1715.5,394.9 L1709.3,400.7 L1702.9,405.7 L1696.2,410.0 L1689.4,413.5 L1682.5,416.2 L1675.5,418.0 L1668.5,419.0 L1661.5,419.1 L1654.6,418.4 L1647.9,417.0 L1641.3,414.8 L1634.9,411.9 L1628.8,408.4 L1622.9,404.3 L1617.3,399.7 L1612.1,394.6 L1607.1,389.2 L1602.5,383.5 L1598.1,377.6 L1594.1,371.5 L1590.4,365.2 L1586.9,358.9 L1583.8,352.6 L1580.8,346.3 L1578.1,340.0 L1575.6,333.8 L1573.3,327.7 L1571.2,321.6 L1569.2,315.7 L1567.4,309.8 L1565.7,304.1 L1564.2,298.4 L1562.7,292.8 L1561.4,287.2 L1560.1,281.8 L1559.0,276.4 L1558.0,271.0 L1557.0,265.7 L1556.1,260.4 L1555.4,255.1 L1554.7,249.9 L1554.0,244.6 L1553.5,239.4 L1553.0,234.2 L1552.5,229.0 L1552.2,223.8 L1551.8,218.5 L1551.6,213.3 L1551.3,208.0 L1551.2,202.6 L1551.0,197.2 L1550.9,191.7 L1550.9,186.1 L1551.0,180.5 L1551.1,174.7 L1551.3,168.8 L1551.6,162.8 L1552.1,156.7 L1552.7,150.5 L1553.4,144.2 L1554.3,137.9 L1555.5,131.5 L1556.8,125.0 L1558.4,118.6 L1560.3,112.2 L1562.3,105.8 L1564.7,99.6 L1567.3,93.5 L1570.2,87.6 L1573.3,81.9 L1576.6,76.4 L1580.2,71.3 L1584.0,66.5 L1588.0,61.9 L1592.2,57.8 L1596.5,53.9 L1601.0,50.5 L1605.6,47.4 L1610.2,44.6 L1615.0,42.2 L1619.8,40.1 L1624.6,38.3 L1629.5,36.7 L1634.5,35.4 L1639.4,34.4 L1644.4,33.5 L1649.4,32.9Z" fill="none" stroke="#ea3a4a" stroke-width="1.3" stroke-opacity="0.85"/>
<path d="M1840.4,410.9 L1836.4,414.1 L1832.4,417.2 L1828.1,420.2 L1823.8,423.0 L1819.2,425.7 L1814.5,428.3 L1809.6,430.6 L1804.6,432.7 L1799.3,434.6 L1793.8,436.2 L1788.1,437.5 L1782.2,438.4 L1776.2,439.0 L1769.9,439.1 L1763.5,438.7 L1756.9,437.9 L1750.2,436.5 L1743.4,434.7 L1736.6,432.3 L1729.7,429.4 L1722.8,426.0 L1715.9,422.0 L1709.2,417.6 L1702.5,412.8 L1695.9,407.5 L1689.5,401.9 L1683.2,395.9 L1677.1,389.5 L1671.1,383.0 L1665.3,376.1 L1659.7,369.1 L1654.3,361.9 L1649.0,354.5 L1643.9,347.0 L1638.9,339.4 L1634.0,331.6 L1629.2,323.7 L1624.6,315.7 L1620.0,307.6 L1615.5,299.3 L1611.2,290.9 L1606.9,282.4 L1602.8,273.6 L1598.9,264.8 L1595.1,255.8 L1591.6,246.6 L1588.3,237.3 L1585.4,227.9 L1582.8,218.4 L1580.5,208.8 L1578.8,199.3 L1577.5,189.8 L1576.7,180.4 L1576.5,171.2 L1576.9,162.2 L1577.9,153.5 L1579.5,145.2 L1581.7,137.4 L1584.6,130.0 L1588.0,123.2 L1592.1,116.9 L1596.7,111.3 L1601.8,106.4 L1607.3,102.2 L1613.3,98.7 L1619.6,95.9 L1626.3,93.8 L1633.1,92.4 L1640.2,91.7 L1647.3,91.5 L1654.5,92.0 L1661.8,93.0 L1668.9,94.4 L1676.1,96.3 L1683.0,98.6 L1689.9,101.2 L1696.6,104.0 L1703.0,107.1 L1709.3,110.3 L1715.4,113.7 L1721.3,117.2 L1726.9,120.8 L1732.4,124.4 L1737.7,128.0 L1742.8,131.7 L1747.7,135.3 L1752.5,139.0 L1757.1,142.7 L1761.5,146.4 L1765.9,150.0 L1770.1,153.7 L1774.2,157.5 L1778.2,161.2 L1782.1,164.9 L1785.9,168.7 L1789.6,172.5 L1793.3,176.3 L1796.9,180.2 L1800.4,184.1 L1803.8,188.0 L1807.3,192.0 L1810.6,196.0 L1814.0,200.0 L1817.3,204.1 L1820.6,208.3 L1823.9,212.5 L1827.2,216.8 L1830.5,221.2 L1833.8,225.7 L1837.1,230.3 L1840.4,235.1 L1843.6,239.9 L1846.9,245.0 L1850.1,250.2 L1853.3,255.5 L1856.4,261.1 L1859.4,266.8 L1862.2,272.6 L1864.9,278.6 L1867.4,284.8 L1869.7,291.0 L1871.7,297.4 L1873.5,303.8 L1875.0,310.3 L1876.1,316.8 L1876.9,323.2 L1877.4,329.6 L1877.5,335.8 L1877.3,342.0 L1876.7,348.0 L1875.8,353.8 L1874.5,359.5 L1873.0,364.9 L1871.1,370.1 L1868.9,375.1 L1866.5,379.8 L1863.9,384.4 L1861.0,388.7 L1858.0,392.8 L1854.8,396.7 L1851.4,400.5 L1847.8,404.1 L1844.2,407.6Z" fill="none" stroke="#bdb236" stroke-width="1.3" stroke-opacity="0.85"/>
<path d="M1467.5,214.0 L1468.8,209.1 L1470.2,204.2 L1471.9,199.3 L1473.8,194.4 L1475.9,189.6 L1478.2,184.8 L1480.8,180.0 L1483.6,175.3 L1486.8,170.7 L1490.3,166.1 L1494.1,161.8 L1498.3,157.6 L1502.9,153.6 L1507.9,149.8 L1513.4,146.3 L1519.2,143.1 L1525.4,140.3 L1532.0,137.8 L1538.9,135.7 L1546.2,134.0 L1553.7,132.7 L1561.6,131.9 L1569.7,131.4 L1577.9,131.4 L1586.3,131.8 L1594.9,132.6 L1603.5,133.8 L1612.1,135.3 L1620.8,137.1 L1629.5,139.2 L1638.2,141.6 L1646.8,144.3 L1655.4,147.1 L1664.0,150.2 L1672.5,153.4 L1681.1,156.9 L1689.5,160.4 L1698.0,164.2 L1706.5,168.1 L1715.0,172.1 L1723.4,176.3 L1731.9,180.8 L1740.3,185.4 L1748.7,190.3 L1757.1,195.4 L1765.3,200.7 L1773.4,206.3 L1781.4,212.2 L1789.1,218.3 L1796.5,224.8 L1803.5,231.4 L1810.1,238.4 L1816.3,245.5 L1821.8,252.8 L1826.8,260.3 L1831.1,267.9 L1834.7,275.6 L1837.5,283.3 L1839.5,290.9 L1840.7,298.5 L1841.1,305.9 L1840.7,313.1 L1839.5,320.1 L1837.4,326.8 L1834.7,333.1 L1831.2,339.1 L1827.1,344.7 L1822.3,349.8 L1817.1,354.6 L1811.4,358.9 L1805.3,362.8 L1798.9,366.2 L1792.2,369.3 L1785.3,371.9 L1778.3,374.2 L1771.3,376.1 L1764.2,377.7 L1757.2,379.1 L1750.2,380.1 L1743.3,381.0 L1736.5,381.6 L1729.8,382.1 L1723.2,382.4 L1716.8,382.5 L1710.6,382.6 L1704.4,382.5 L1698.4,382.3 L1692.5,382.0 L1686.8,381.7 L1681.1,381.2 L1675.5,380.7 L1670.0,380.1 L1664.6,379.5 L1659.2,378.7 L1653.9,377.9 L1648.6,377.0 L1643.4,376.1 L1638.3,375.1 L1633.1,374.0 L1628.0,372.8 L1622.9,371.6 L1617.9,370.4 L1612.8,369.1 L1607.7,367.7 L1602.6,366.3 L1597.4,364.8 L1592.2,363.3 L1587.0,361.6 L1581.7,359.9 L1576.3,358.1 L1570.8,356.3 L1565.3,354.2 L1559.7,352.1 L1554.1,349.8 L1548.3,347.3 L1542.6,344.6 L1536.8,341.8 L1531.1,338.7 L1525.4,335.4 L1519.7,331.9 L1514.2,328.2 L1508.8,324.2 L1503.6,320.1 L1498.6,315.7 L1493.9,311.2 L1489.4,306.5 L1485.3,301.6 L1481.5,296.6 L1478.1,291.5 L1475.0,286.3 L1472.4,281.0 L1470.1,275.7 L1468.1,270.4 L1466.6,265.1 L1465.4,259.8 L1464.6,254.5 L1464.1,249.3 L1463.8,244.1 L1463.9,239.0 L1464.2,233.9 L1464.7,228.9 L1465.4,223.9 L1466.3,218.9Z" fill="none" stroke="#3fe24a" stroke-width="1.3" stroke-opacity="0.85"/>
<path d="M1884.9,154.1 L1886.8,158.9 L1888.4,163.7 L1890.0,168.6 L1891.3,173.7 L1892.5,178.8 L1893.4,184.1 L1894.1,189.4 L1894.6,194.9 L1894.7,200.5 L1894.6,206.2 L1894.0,212.0 L1893.1,217.9 L1891.7,223.9 L1889.9,229.8 L1887.6,235.8 L1884.7,241.8 L1881.4,247.8 L1877.5,253.7 L1873.1,259.5 L1868.3,265.1 L1862.9,270.6 L1857.0,275.9 L1850.8,281.0 L1844.1,285.8 L1837.0,290.5 L1829.7,294.8 L1822.0,299.0 L1814.1,302.8 L1806.0,306.5 L1797.7,309.8 L1789.3,313.0 L1780.8,315.9 L1772.1,318.7 L1763.4,321.2 L1754.6,323.6 L1745.7,325.9 L1736.7,328.0 L1727.7,329.9 L1718.5,331.8 L1709.3,333.5 L1699.9,335.0 L1690.5,336.4 L1680.9,337.6 L1671.3,338.6 L1661.6,339.4 L1651.7,339.9 L1641.9,340.2 L1632.0,340.1 L1622.2,339.6 L1612.4,338.8 L1602.8,337.5 L1593.4,335.8 L1584.2,333.6 L1575.4,331.0 L1566.9,327.8 L1559.0,324.2 L1551.6,320.1 L1544.8,315.6 L1538.7,310.6 L1533.3,305.2 L1528.6,299.4 L1524.7,293.3 L1521.6,286.9 L1519.3,280.4 L1517.8,273.6 L1517.1,266.7 L1517.2,259.8 L1518.0,252.8 L1519.4,245.9 L1521.5,239.0 L1524.2,232.3 L1527.3,225.7 L1530.9,219.4 L1534.9,213.2 L1539.2,207.2 L1543.8,201.5 L1548.6,196.1 L1553.5,190.8 L1558.5,185.9 L1563.6,181.1 L1568.8,176.6 L1573.9,172.3 L1579.0,168.2 L1584.1,164.3 L1589.2,160.6 L1594.2,157.1 L1599.1,153.7 L1604.0,150.5 L1608.9,147.3 L1613.8,144.4 L1618.6,141.5 L1623.4,138.7 L1628.2,136.1 L1633.0,133.5 L1637.7,131.1 L1642.5,128.7 L1647.3,126.4 L1652.0,124.2 L1656.8,122.1 L1661.6,120.0 L1666.5,118.0 L1671.3,116.0 L1676.2,114.1 L1681.1,112.2 L1686.1,110.3 L1691.1,108.5 L1696.2,106.7 L1701.4,104.9 L1706.7,103.2 L1712.1,101.5 L1717.7,99.8 L1723.3,98.2 L1729.1,96.6 L1735.0,95.2 L1741.1,93.8 L1747.3,92.6 L1753.7,91.5 L1760.1,90.6 L1766.7,89.9 L1773.3,89.4 L1780.0,89.2 L1786.6,89.2 L1793.3,89.5 L1799.9,90.1 L1806.4,91.0 L1812.8,92.2 L1819.0,93.7 L1825.0,95.6 L1830.8,97.7 L1836.3,100.1 L1841.6,102.8 L1846.5,105.7 L1851.2,108.9 L1855.6,112.3 L1859.6,115.9 L1863.4,119.6 L1866.9,123.5 L1870.1,127.6 L1873.1,131.8 L1875.9,136.1 L1878.4,140.4 L1880.7,144.9 L1882.9,149.5Z" fill="none" stroke="#1fb2bd" stroke-width="1.3" stroke-opacity="0.85"/>
<path d="M1582.4,447.9 L1578.1,445.2 L1573.9,442.2 L1569.8,439.1 L1565.7,435.9 L1561.8,432.4 L1557.9,428.7 L1554.2,424.8 L1550.6,420.6 L1547.1,416.2 L1543.9,411.4 L1541.0,406.4 L1538.3,401.1 L1535.9,395.5 L1533.8,389.6 L1532.2,383.4 L1531.0,376.8 L1530.2,370.1 L1529.8,363.0 L1530.0,355.8 L1530.6,348.3 L1531.7,340.7 L1533.4,333.0 L1535.4,325.2 L1538.0,317.3 L1541.0,309.5 L1544.4,301.6 L1548.1,293.8 L1552.2,286.0 L1556.7,278.3 L1561.4,270.7 L1566.3,263.2 L1571.5,255.8 L1576.9,248.5 L1582.5,241.3 L1588.2,234.2 L1594.0,227.1 L1600.1,220.2 L1606.2,213.2 L1612.6,206.4 L1619.0,199.6 L1625.7,192.8 L1632.5,186.2 L1639.5,179.6 L1646.7,173.1 L1654.2,166.7 L1661.8,160.5 L1669.6,154.5 L1677.7,148.8 L1685.9,143.4 L1694.3,138.4 L1702.8,133.7 L1711.5,129.6 L1720.1,125.9 L1728.8,122.9 L1737.5,120.5 L1746.1,118.7 L1754.4,117.7 L1762.6,117.4 L1770.5,117.8 L1778.1,119.0 L1785.3,120.9 L1792.0,123.6 L1798.2,126.9 L1804.0,130.9 L1809.1,135.5 L1813.7,140.6 L1817.8,146.3 L1821.2,152.4 L1824.1,158.9 L1826.5,165.6 L1828.3,172.6 L1829.6,179.8 L1830.4,187.1 L1830.8,194.4 L1830.8,201.8 L1830.5,209.1 L1829.8,216.3 L1828.9,223.4 L1827.8,230.4 L1826.4,237.2 L1824.9,243.9 L1823.3,250.4 L1821.6,256.7 L1819.7,262.8 L1817.8,268.8 L1815.8,274.6 L1813.8,280.3 L1811.7,285.8 L1809.6,291.2 L1807.5,296.4 L1805.2,301.6 L1803.0,306.7 L1800.7,311.6 L1798.3,316.5 L1795.9,321.3 L1793.4,326.0 L1790.9,330.7 L1788.4,335.2 L1785.7,339.8 L1783.1,344.3 L1780.4,348.8 L1777.6,353.2 L1774.8,357.6 L1771.9,362.1 L1769.0,366.5 L1766.0,370.9 L1762.9,375.4 L1759.7,379.9 L1756.5,384.4 L1753.1,389.0 L1749.6,393.6 L1746.0,398.2 L1742.2,402.9 L1738.3,407.5 L1734.1,412.2 L1729.8,416.8 L1725.3,421.4 L1720.7,425.9 L1715.8,430.4 L1710.7,434.6 L1705.4,438.8 L1700.0,442.7 L1694.5,446.3 L1688.8,449.7 L1683.0,452.8 L1677.1,455.6 L1671.2,458.0 L1665.3,460.1 L1659.3,461.8 L1653.5,463.1 L1647.6,464.0 L1641.9,464.5 L1636.2,464.7 L1630.7,464.5 L1625.3,464.0 L1620.0,463.2 L1614.9,462.1 L1609.9,460.7 L1605.1,459.1 L1600.3,457.2 L1595.7,455.2 L1591.2,452.9 L1586.7,450.5Z" fill="none" stroke="#3f4cf0" stroke-width="1.3" stroke-opacity="0.85"/>
<rect x="1396" y="174.5" width="89.5" height="29.8" fill="#fff"/><rect x="1871" y="134" width="100" height="24.3" fill="#fff"/>
<text x="1661.1" y="74.6" font-size="21" text-anchor="middle" textLength="42.0" lengthAdjust="spacingAndGlyphs" fill="#111">1791</text>
<text x="1628.5" y="124.3" font-size="21" text-anchor="middle" textLength="31.5" lengthAdjust="spacingAndGlyphs" fill="#111">403</text>
<text x="1680.0" y="135.8" font-size="21" text-anchor="middle" textLength="10.5" lengthAdjust="spacingAndGlyphs" fill="#111">2</text>
<text x="1590.8" y="152.3" font-size="21" text-anchor="middle" textLength="21.0" lengthAdjust="spacingAndGlyphs" fill="#111">30</text>
<text x="1564.8" y="161.3" font-size="21" text-anchor="middle" textLength="21.0" lengthAdjust="spacingAndGlyphs" fill="#111">59</text>
<text x="1611.5" y="183.4" font-size="21" text-anchor="middle" textLength="10.5" lengthAdjust="spacingAndGlyphs" fill="#111">2</text>
<text x="1496.1" y="219.1" font-size="21" text-anchor="middle" textLength="31.5" lengthAdjust="spacingAndGlyphs" fill="#111">134</text>
<text x="1571.2" y="226.7" font-size="21" text-anchor="middle" textLength="10.5" lengthAdjust="spacingAndGlyphs" fill="#111">1</text>
<text x="1686.0" y="259.2" font-size="21" text-anchor="middle" textLength="21.0" lengthAdjust="spacingAndGlyphs" fill="#111">24</text>
<text x="1746.9" y="112.3" font-size="21" text-anchor="middle" textLength="10.5" lengthAdjust="spacingAndGlyphs" fill="#111">0</text>
<text x="1737.9" y="167.1" font-size="21" text-anchor="middle" textLength="10.5" lengthAdjust="spacingAndGlyphs" fill="#111">1</text>
<text x="1757.2" y="138.4" font-size="21" text-anchor="middle" textLength="10.5" lengthAdjust="spacingAndGlyphs" fill="#111">3</text>
<text x="1800.5" y="161.8" font-size="21" text-anchor="middle" textLength="10.5" lengthAdjust="spacingAndGlyphs" fill="#111">6</text>
<text x="1852.0" y="183.5" font-size="21" text-anchor="middle" textLength="31.5" lengthAdjust="spacingAndGlyphs" fill="#111">112</text>
<text x="1800.3" y="216.1" font-size="21" text-anchor="middle" textLength="10.5" lengthAdjust="spacingAndGlyphs" fill="#111">0</text>
<text x="1536.8" y="276.2" font-size="21" text-anchor="middle" textLength="21.0" lengthAdjust="spacingAndGlyphs" fill="#111">11</text>
<text x="1589.4" y="304.5" font-size="21" text-anchor="middle" textLength="21.0" lengthAdjust="spacingAndGlyphs" fill="#111">91</text>
<text x="1556.7" y="316.0" font-size="21" text-anchor="middle" textLength="21.0" lengthAdjust="spacingAndGlyphs" fill="#111">33</text>
<text x="1556.7" y="345.1" font-size="21" text-anchor="middle" textLength="21.0" lengthAdjust="spacingAndGlyphs" fill="#111">81</text>
<text x="1620.4" y="359.5" font-size="21" text-anchor="middle" textLength="31.5" lengthAdjust="spacingAndGlyphs" fill="#111">215</text>
<text x="1703.5" y="361.6" font-size="21" text-anchor="middle" textLength="21.0" lengthAdjust="spacingAndGlyphs" fill="#111">57</text>
<text x="1651.5" y="405.4" font-size="21" text-anchor="middle" textLength="21.0" lengthAdjust="spacingAndGlyphs" fill="#111">34</text>
<text x="1697.4" y="399.3" font-size="21" text-anchor="middle" textLength="10.5" lengthAdjust="spacingAndGlyphs" fill="#111">6</text>
<text x="1725.4" y="405.5" font-size="21" text-anchor="middle" textLength="10.5" lengthAdjust="spacingAndGlyphs" fill="#111">0</text>
<text x="1590.7" y="423.1" font-size="21" text-anchor="middle" textLength="21.0" lengthAdjust="spacingAndGlyphs" fill="#111">94</text>
<text x="1788.9" y="276.2" font-size="21" text-anchor="middle" textLength="10.5" lengthAdjust="spacingAndGlyphs" fill="#111">0</text>
<text x="1824.2" y="290.0" font-size="21" text-anchor="middle" textLength="10.5" lengthAdjust="spacingAndGlyphs" fill="#111">0</text>
<text x="1843.8" y="270.9" font-size="21" text-anchor="middle" textLength="10.5" lengthAdjust="spacingAndGlyphs" fill="#111">2</text>
<text x="1809.0" y="333.8" font-size="21" text-anchor="middle" textLength="10.5" lengthAdjust="spacingAndGlyphs" fill="#111">0</text>
<text x="1763.1" y="353.7" font-size="21" text-anchor="middle" textLength="10.5" lengthAdjust="spacingAndGlyphs" fill="#111">0</text>
<text x="1804.3" y="393.5" font-size="21" text-anchor="middle" textLength="42.0" lengthAdjust="spacingAndGlyphs" fill="#111">4997</text>
<text x="1607.2" y="16.7" font-size="17" font-weight="bold" textLength="109.0" lengthAdjust="spacingAndGlyphs" fill="#000">All Age (2,719)</text>
<text x="1892.1" y="143.9" font-size="17" font-weight="bold" textLength="76.1" lengthAdjust="spacingAndGlyphs" fill="#000">10 d (288)</text>
<text x="1404.2" y="191.5" font-size="17" font-weight="bold" textLength="62.5" lengthAdjust="spacingAndGlyphs" fill="#000">0h (738)</text>
<text x="1478.9" y="471.2" font-size="17" font-weight="bold" textLength="75.2" lengthAdjust="spacingAndGlyphs" fill="#000">72 h (645)</text>
<text x="1861.2" y="437.0" font-size="17" font-weight="bold" textLength="79.9" lengthAdjust="spacingAndGlyphs" fill="#000">7 d (5,524)</text>
</svg>
</body></html>
